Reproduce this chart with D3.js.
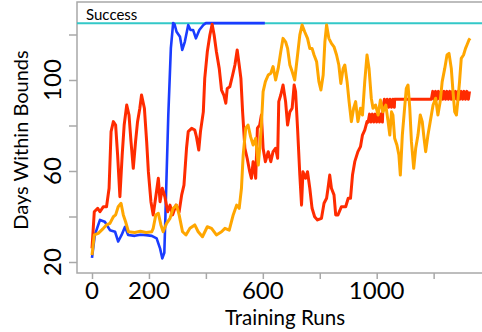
<!DOCTYPE html>
<html>
<head>
<meta charset="utf-8">
<script src="https://cdn.jsdelivr.net/npm/d3@7"></script>
<style>
  html, body { margin: 0; padding: 0; background: #fff; }
  svg { display: block; font-family: Lato, "Open Sans", sans-serif; }
</style>
</head>
<body>
<svg id="chart" width="482" height="332"></svg>
<script>
// 学習曲線 3 本 (Training Runs vs Days Within Bounds)

// ---------- データ ----------
const X_TICKS = [0, 200, 400, 600, 800, 1000, 1200];
const X_LABELS = [0, 200, 600, 1000];
const Y_TICKS = [20, 40, 60, 80, 100, 120];
const Y_LABELS = [20, 60, 100];
const SUCCESS = 125;

const blueRun = [
  [0, 21.8], [10, 31.9], [28, 38.5], [45, 37.7], [63, 34], [81, 33.3], [92, 29], [104, 31.9],
  [116, 35.5], [127, 31.9], [150, 31.5], [170, 32], [190, 31.8], [210, 31.5], [227, 30.4],
  [239, 26], [247, 21.6], [254, 24], [258, 40.7], [268, 84.6], [277, 114], [285, 125],
  [290, 124.5], [297, 121.2], [309, 119], [317, 113.2], [326, 116.8], [338, 124.2], [346, 122],
  [355, 122], [365, 118.3], [377, 122], [391, 124.2], [400, 125], [607, 125],
];

const redRun = [
  [0, 26], [8, 42.1], [20, 43.6], [28, 42.1], [40, 44.3], [51, 44.3], [60, 52.4], [67, 77.3],
  [75, 81.7], [83, 80.2], [90, 67], [98, 48.7], [106, 67], [113, 80.2], [122, 89], [130, 84.6],
  [137, 72.9], [145, 61.2], [153, 72.9], [160, 81.7], [168, 87.6], [174, 93.4], [184, 87.6],
  [192, 72.9], [198, 59.7], [207, 46.5], [215, 40.7], [224, 48.7], [233, 56.8], [239, 46.5],
  [247, 52.4], [256, 48.7], [266, 42.1], [274, 45], [283, 40.7], [295, 45], [306, 42],
  [315, 49.5], [323, 53.8], [332, 70], [338, 77.3], [350, 78.8], [361, 78], [367, 75],
  [375, 69.2], [381, 77.3], [391, 86], [396, 100.7], [405, 112.4], [414, 119.8], [422, 124.5],
  [429, 119.8], [437, 112.4], [447, 105], [455, 95.6], [463, 93.4], [470, 89.8], [475, 96.3],
  [484, 97], [494, 102.2], [502, 106.6], [510, 113.2], [517, 106.6], [523, 100.7], [529, 86],
  [537, 70], [545, 65.6], [554, 59.7], [560, 56.8], [566, 64.1], [575, 56.8], [581, 78.8],
  [589, 80.2], [595, 84.6], [601, 70], [609, 64.1], [619, 68.5], [628, 64.1], [636, 68.5],
  [645, 70], [652, 65.6], [656, 90.5], [663, 93.4], [671, 97.8], [680, 90.5], [687, 80.2],
  [695, 86], [703, 87.6], [710, 97.8], [715, 94.9], [722, 78.8], [730, 58.2], [736, 45],
  [741, 59.7], [750, 56.8], [757, 59.7], [765, 52.4], [773, 43.6], [782, 39.9], [792, 38.5],
  [806, 39.2], [815, 45.8], [824, 48], [829, 52.4], [835, 58.2], [841, 52.4], [850, 49.5],
  [856, 40.7], [864, 40.7], [876, 44.3], [891, 44.3], [900, 48], [908, 48], [915, 58.2],
  [923, 64.1], [934, 68.5], [943, 70.7], [950, 75.8], [958, 78], [966, 81.7],
  // 細かく振動している区間(太い帯に見える)
  [970, 81.5], [975, 85], [980, 81.5], [985, 85], [990, 81.5], [995, 85], [1000, 81.5],
  [1005, 85], [1010, 81.5], [1015, 85], [1020, 81.5],
  [1022, 88], [1027, 91.5], [1032, 88], [1037, 91.5], [1042, 88], [1047, 91.5], [1052, 88],
  [1057, 91.5], [1062, 88], [1063, 91.5], [1192, 91.5],
  [1197, 95], [1202, 91.5], [1207, 95], [1212, 91.5], [1217, 95], [1222, 91.5], [1227, 95],
  [1232, 91.5], [1237, 95], [1242, 91.5], [1247, 95], [1252, 91.5], [1257, 95], [1262, 91.5],
  [1267, 95], [1272, 91.5], [1277, 95], [1282, 91.5], [1287, 95], [1292, 91.5], [1297, 95],
  [1302, 91.5], [1307, 95], [1312, 91.5], [1317, 95], [1322, 91.5], [1326, 95],
];

const orangeRun = [
  [0, 23], [8, 31.9], [22, 32.6], [40, 34.8], [51, 36.3], [63, 37], [75, 39.9], [83, 40.7],
  [92, 44.3], [102, 45.8], [110, 40.7], [118, 37.7], [128, 33.3], [150, 33], [170, 33.5],
  [190, 33], [210, 33.3], [215, 34.8], [224, 40.7], [233, 41.4], [242, 36.3], [250, 33.3],
  [262, 37], [274, 39.2], [285, 43.6], [297, 45], [306, 40.7], [318, 33.3], [330, 31.9],
  [344, 34.8], [361, 36.3], [373, 33.3], [388, 31.1], [405, 35.5], [420, 34.8], [437, 31.9],
  [455, 33.3], [467, 34.8], [482, 34], [496, 40.7], [508, 45], [517, 43.6], [525, 52.4],
  [531, 67], [540, 78.8], [548, 80.2], [557, 75.1], [566, 71.4], [575, 74.4], [584, 62.6],
  [589, 70], [595, 80.2], [601, 94.9], [609, 99.3], [619, 102.2], [628, 103], [636, 105.9],
  [645, 100], [654, 105.1], [663, 112.4], [671, 118.3], [680, 116.8], [687, 113.9],
  [695, 106.6], [703, 103.7], [712, 100], [722, 111], [730, 119.8], [738, 124.2],
  [747, 121.2], [757, 118.3], [765, 113.9], [773, 113.9], [780, 111], [789, 108],
  [797, 99.3], [804, 95.6], [812, 102.2], [818, 116.8], [824, 124.2], [832, 118.3],
  [841, 116.1], [850, 114.6], [859, 111], [867, 106.6], [874, 98.5], [882, 105],
  [888, 106.6], [896, 99.3], [903, 90.5], [911, 81.7], [919, 87.6], [926, 90.5], [934, 81.7],
  [943, 87.6], [950, 84.6], [958, 99.3], [966, 111], [973, 105.1], [981, 92], [987, 87.6],
  [996, 89], [1005, 84.6], [1013, 91.2], [1022, 86], [1032, 89], [1040, 81.7], [1046, 75.8],
  [1052, 86], [1057, 84.6], [1063, 74.4], [1071, 71.4], [1078, 67], [1083, 58.2],
  [1090, 75.8], [1098, 87.6], [1104, 96.3], [1110, 97.8], [1116, 88], [1122, 72.9],
  [1130, 61.2], [1137, 70], [1145, 75.8], [1153, 84.6], [1160, 81.7], [1165, 75.8],
  [1172, 68.5], [1180, 75.8], [1188, 81.7], [1198, 89], [1207, 92], [1215, 84.6],
  [1223, 90.5], [1230, 99.3], [1239, 105.1], [1247, 111], [1254, 111.7], [1262, 105.1],
  [1268, 94.9], [1274, 86], [1280, 84.6], [1286, 92], [1291, 99.3], [1297, 109.5],
  [1305, 111], [1312, 113.9], [1317, 115.4], [1324, 117.6], [1328, 118.3],
];

// ---------- 見た目 ----------
const COLOR = { blue: "#1a3cff", red: "#ff2b00", orange: "#ffa600", success: "#33c8c8", frame: "#a8a8a8" };
const FRAME = { left: 77, top: 2, right: 492, bottom: 273 };

const svg = d3.select("#chart");
const x = d3.scaleLinear().domain([0, 1000]).range([92, 376.7]);
const y = d3.scaleLinear().domain([20, 120]).range([262, 34.5]);

// 枠(右側は画面外まで)
svg.append("rect")
  .attr("x", FRAME.left).attr("y", FRAME.top)
  .attr("width", FRAME.right - FRAME.left).attr("height", FRAME.bottom - FRAME.top)
  .attr("fill", "none").attr("stroke", COLOR.frame).attr("stroke-width", 1.5);

// 軸
const xAxis = svg.append("g").attr("transform", `translate(0,${FRAME.bottom})`)
  .call(d3.axisBottom(x).tickValues(X_TICKS).tickSize(6).tickFormat(""));
xAxis.select(".domain").remove();
xAxis.selectAll("line").attr("stroke", COLOR.frame).attr("stroke-width", 1.5);

const yAxis = svg.append("g").attr("transform", `translate(${FRAME.left},0)`)
  .call(d3.axisLeft(y).tickValues(Y_TICKS).tickSize(8).tickFormat(""));
yAxis.select(".domain").remove();
yAxis.selectAll("line").attr("stroke", COLOR.frame).attr("stroke-width", 1.5);

// 目盛りラベル(R風に間引き)
svg.append("g").selectAll("text").data(X_LABELS).join("text")
  .attr("x", (d) => x(d)).attr("y", 299)
  .attr("text-anchor", "middle").attr("font-size", 24).attr("fill", "#000")
  .text((d) => d);

svg.append("g").selectAll("text").data(Y_LABELS).join("text")
  .attr("transform", (d) => `translate(61,${y(d)}) rotate(-90)`)
  .attr("text-anchor", "middle").attr("font-size", 24).attr("fill", "#000")
  .text((d) => d);

// 軸タイトル
svg.append("text").attr("x", 285).attr("y", 325)
  .attr("text-anchor", "middle").attr("font-size", 20.5).text("Training Runs");
svg.append("text").attr("transform", "translate(28,140) rotate(-90)")
  .attr("text-anchor", "middle").attr("font-size", 20).text("Days Within Bounds");

// 成功ライン
svg.append("line")
  .attr("x1", FRAME.left).attr("x2", FRAME.right)
  .attr("y1", y(SUCCESS)).attr("y2", y(SUCCESS))
  .attr("stroke", COLOR.success).attr("stroke-width", 2);
svg.append("text").attr("x", 86).attr("y", 20).attr("font-size", 15).text("Success");

// 系列(青 → 赤 → 橙 の順に重ねる)
const line = d3.line().x((d) => x(d[0])).y((d) => y(d[1]));
const series = [
  { data: blueRun, color: COLOR.blue, width: 2.6 },
  { data: redRun, color: COLOR.red, width: 3 },
  { data: orangeRun, color: COLOR.orange, width: 3 },
];
svg.append("g").selectAll("path").data(series).join("path")
  .attr("d", (s) => line(s.data))
  .attr("fill", "none")
  .attr("stroke", (s) => s.color)
  .attr("stroke-width", (s) => s.width)
  .attr("stroke-linejoin", "round");
</script>
</body>
</html>
